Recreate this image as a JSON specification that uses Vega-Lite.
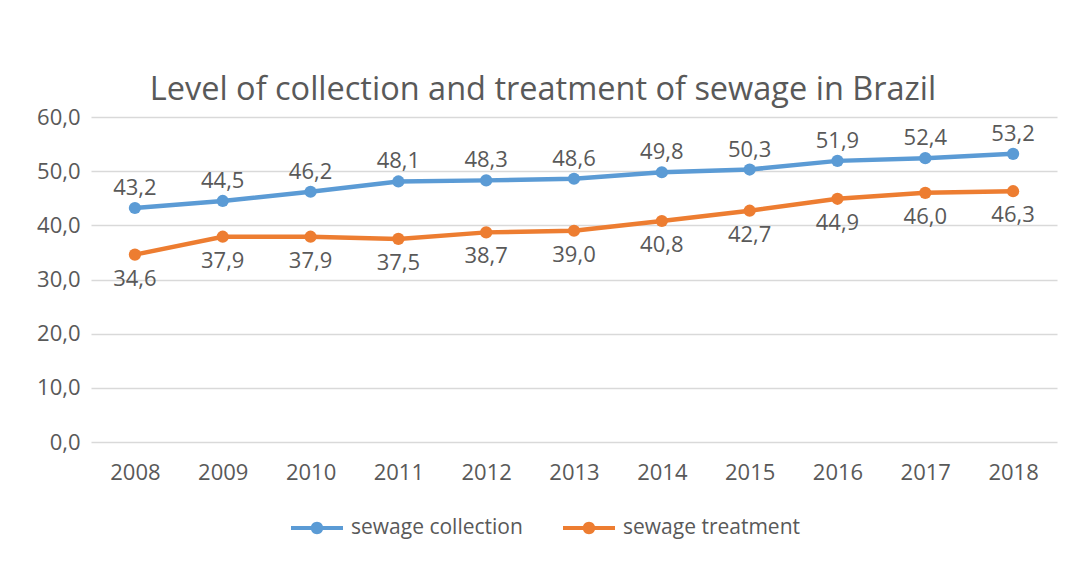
{
  "$schema": "https://vega.github.io/schema/vega-lite/v6.json",
  "width": 966,
  "height": 325,
  "autosize": {"type": "none"},
  "padding": {"left": 91, "top": 117, "right": 10, "bottom": 119},
  "background": "white",
  "title": {
    "text": "Level of collection and treatment of sewage in Brazil",
    "anchor": "middle",
    "dx": -31,
    "offset": 0,
    "fontSize": 32.5,
    "fontWeight": "normal",
    "font": "Open Sans",
    "color": "#595959"
  },
  "data": {
    "values": [
      {"year": "2008", "series": "sewage collection", "value": 43.2},
      {"year": "2009", "series": "sewage collection", "value": 44.5},
      {"year": "2010", "series": "sewage collection", "value": 46.2},
      {"year": "2011", "series": "sewage collection", "value": 48.1},
      {"year": "2012", "series": "sewage collection", "value": 48.3},
      {"year": "2013", "series": "sewage collection", "value": 48.6},
      {"year": "2014", "series": "sewage collection", "value": 49.8},
      {"year": "2015", "series": "sewage collection", "value": 50.3},
      {"year": "2016", "series": "sewage collection", "value": 51.9},
      {"year": "2017", "series": "sewage collection", "value": 52.4},
      {"year": "2018", "series": "sewage collection", "value": 53.2},
      {"year": "2008", "series": "sewage treatment", "value": 34.6},
      {"year": "2009", "series": "sewage treatment", "value": 37.9},
      {"year": "2010", "series": "sewage treatment", "value": 37.9},
      {"year": "2011", "series": "sewage treatment", "value": 37.5},
      {"year": "2012", "series": "sewage treatment", "value": 38.7},
      {"year": "2013", "series": "sewage treatment", "value": 39.0},
      {"year": "2014", "series": "sewage treatment", "value": 40.8},
      {"year": "2015", "series": "sewage treatment", "value": 42.7},
      {"year": "2016", "series": "sewage treatment", "value": 44.9},
      {"year": "2017", "series": "sewage treatment", "value": 46.0},
      {"year": "2018", "series": "sewage treatment", "value": 46.3}
    ]
  },
  "encoding": {
    "x": {
      "field": "year", "type": "ordinal",
      "scale": {"type": "point", "padding": 0.5},
      "axis": {"title": null, "labelAngle": 0, "domain": false, "ticks": false, "labelPadding": 20, "labelFontSize": 22, "labelColor": "#595959", "labelFont": "Open Sans", "grid": false}
    },
    "y": {
      "field": "value", "type": "quantitative",
      "scale": {"domain": [0, 60], "nice": false},
      "axis": {"title": null, "values": [0, 10, 20, 30, 40, 50, 60], "format": ".1f", "domain": false, "ticks": false, "labelPadding": 11, "labelFontSize": 22, "labelColor": "#595959", "labelFont": "Open Sans", "grid": true, "gridColor": "#d9d9d9", "gridWidth": 1.5}
    },
    "color": {
      "field": "series", "type": "nominal",
      "scale": {"domain": ["sewage collection", "sewage treatment"], "range": ["#5B9BD5", "#ED7D31"]},
      "legend": {
        "title": null,
        "orient": "none",
        "direction": "horizontal",
        "legendX": 200,
        "legendY": 385,
        "labelFontSize": 21,
        "labelFont": "Open Sans",
        "labelColor": "#595959",
        "labelLimit": 400,
        "labelOffset": 8,
        "columnPadding": 40,
        "symbolSize": 2704,
        "symbolType": "M-1,-0.08 H1 V0.08 H-1 Z M0.24,0 A0.24,0.24 0 1,1 -0.24,0 A0.24,0.24 0 1,1 0.24,0 Z",
        "symbolStrokeWidth": 0,
        "encode": {"symbols": {"update": {"fill": {"scale": "color", "field": "value"}, "strokeWidth": {"value": 0}, "opacity": {"value": 1}}}}
      }
    }
  },
  "layer": [
    {"mark": {"type": "line", "strokeWidth": 4.5, "strokeCap": "round"}},
    {"mark": {"type": "point", "filled": true, "opacity": 1, "size": 150}},
    {
      "transform": [{"filter": "datum.series === 'sewage collection'"}],
      "mark": {"type": "text", "dy": -20, "fontSize": 22, "font": "Open Sans", "color": "#595959"},
      "encoding": {"text": {"field": "value", "type": "quantitative", "format": ".1f"}, "color": {"value": "#595959"}}
    },
    {
      "transform": [{"filter": "datum.series === 'sewage treatment'"}],
      "mark": {"type": "text", "dy": 24, "fontSize": 22, "font": "Open Sans", "color": "#595959"},
      "encoding": {"text": {"field": "value", "type": "quantitative", "format": ".1f"}, "color": {"value": "#595959"}}
    }
  ],
  "config": {
    "locale": {"number": {"decimal": ",", "thousands": ".", "grouping": [3], "currency": ["", ""]}},
    "view": {"stroke": null}
  }
}
